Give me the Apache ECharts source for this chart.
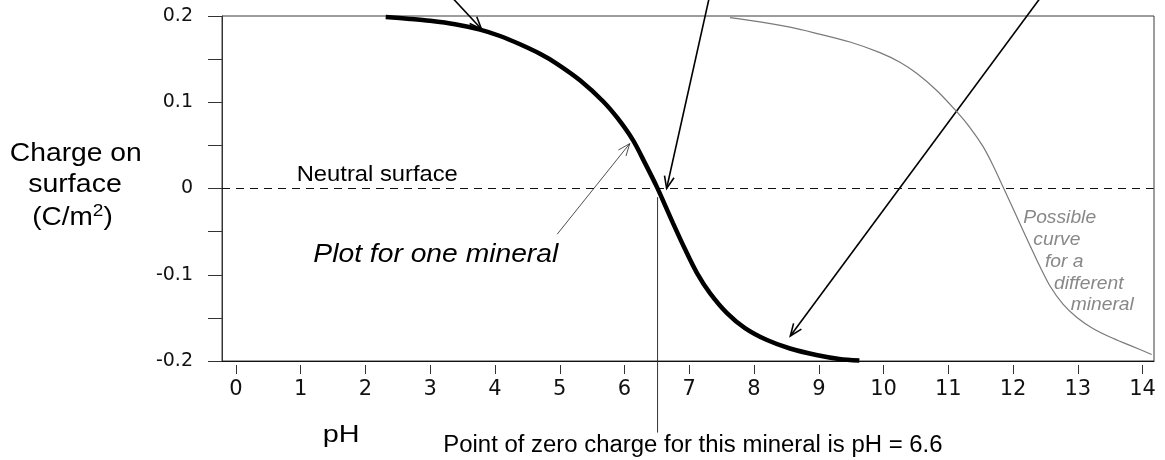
<!DOCTYPE html>
<html><head><meta charset="utf-8">
<script src="https://cdn.jsdelivr.net/npm/echarts@6/dist/echarts.min.js"></script>
<style>html,body{margin:0;padding:0;background:#fff}#c{width:1165px;height:460px}</style>
</head><body><div id="c"></div>
<script>
// ---- data ----
const xTickValues = [0,1,2,3,4,5,6,7,8,9,10,11,12,13,14];
const yTickLabelValues = [-0.2,-0.1,0,0.1,0.2];
const thickCurve = [[2.312,0.1988],[2.687,0.1966],[2.996,0.1944],[3.382,0.1904],[3.768,0.1842],[4.077,0.1768],[4.385,0.1672],[4.694,0.1562],[4.957,0.1446],[5.312,0.1255],[5.667,0.1012],[5.899,0.0809],[6.130,0.0560],[6.316,0.0294],[6.501,0.0016],[6.625,-0.0193],[6.748,-0.0401],[6.933,-0.0702],[7.119,-0.0980],[7.319,-0.1212],[7.582,-0.1444],[7.860,-0.1618],[8.200,-0.1757],[8.555,-0.1855],[8.962,-0.1930],[9.317,-0.1976],[9.626,-0.1995]];
const grayCurve = [[7.628,0.1981],[8.091,0.1932],[8.555,0.1870],[8.914,0.1808],[9.481,0.1699],[9.944,0.1576],[10.253,0.1464],[10.516,0.1333],[10.825,0.1134],[11.133,0.0888],[11.334,0.0707],[11.535,0.0488],[11.689,0.0270],[11.844,0.0020],[12.029,-0.0282],[12.261,-0.0660],[12.415,-0.0905],[12.570,-0.1130],[12.770,-0.1340],[12.986,-0.1495],[13.233,-0.1623],[13.496,-0.1722],[13.805,-0.1819],[14.140,-0.1924]];
const neutralLine = [[-0.216,0],[14.17,0]];
const zeroChargeLine = [[6.51,-0.01],[6.51,-0.283]];
const thickArrows = [[[3.33,0.222],[3.79,0.185]],[[7.31,0.222],[6.65,0.0]],[[12.43,0.222],[8.56,-0.171]]];
const thinArrow = [[4.96,-0.053],[6.08,0.052]];
const xMin = -0.216, xMax = 14.176;

const chart = echarts.init(document.getElementById('c'), null, {renderer:'canvas'});
const baseFont = 'Liberation Sans, Arial, sans-serif';
chart.setOption({
  animation:false,
  backgroundColor:'#fff',
  grid:{left:222,right:11,top:16,height:345,show:true,borderColor:'#3a3a3a',borderWidth:1,backgroundColor:'transparent'},
  xAxis:[
    {type:'value',min:xMin,max:xMax,position:'bottom',
     axisLine:{show:true,onZero:false,lineStyle:{color:'#111',width:1}},axisTick:{show:false},axisLabel:{show:false},splitLine:{show:false}},
    {type:'value',min:xMin,max:xMax,position:'bottom',offset:4,
     axisLine:{show:false,onZero:false},
     axisTick:{show:true,length:9,lineStyle:{color:'#333',width:1},customValues:xTickValues},
     axisLabel:{show:true,customValues:xTickValues,margin:14,fontFamily:'DejaVu Sans',fontSize:21,color:'#111'},
     splitLine:{show:false}}
  ],
  yAxis:{type:'value',min:-0.2,max:0.2,interval:0.05,
    axisLine:{show:true,onZero:false,lineStyle:{color:'#333',width:1}},
    axisTick:{show:true,inside:false,length:14,lineStyle:{color:'#333',width:1}},
    axisLabel:{margin:29,fontFamily:'DejaVu Sans',fontSize:19,color:'#111',padding:[6,0,0,0],
      formatter:function(v){return yTickLabelValues.some(function(t){return Math.abs(t-v)<1e-9;})?String(Math.round(v*10)/10):'';}},
    splitLine:{show:false}},
  series:[
    {type:'line',data:neutralLine,symbol:'none',silent:true,lineStyle:{color:'#111',width:1,type:[8,6]}},
    {type:'line',data:zeroChargeLine,symbol:'none',silent:true,clip:false,lineStyle:{color:'#333',width:1}},
    {type:'line',data:grayCurve,symbol:'none',smooth:0.3,silent:true,lineStyle:{color:'#7a7a7a',width:1.2}},
    {type:'line',data:thickCurve,symbol:'none',smooth:0.3,silent:true,lineStyle:{color:'#000',width:4.5}}
  ]
});

function px(p){return chart.convertToPixel({gridIndex:0},p);}
function arrow(s,e,w,color){
  const S=px(s),E=px(e);
  const dx=E[0]-S[0],dy=E[1]-S[1],len=Math.hypot(dx,dy);
  const ux=dx/len,uy=dy/len,L=13,th=22*Math.PI/180;
  function wing(a){const c=Math.cos(a),si=Math.sin(a);const rx=ux*c-uy*si,ry=ux*si+uy*c;return [E[0]-L*rx,E[1]-L*ry];}
  return [
    {type:'line',shape:{x1:S[0],y1:S[1],x2:E[0],y2:E[1]},style:{stroke:color,lineWidth:w},silent:true},
    {type:'polyline',shape:{points:[wing(th),E,wing(-th)]},style:{stroke:color,lineWidth:w,fill:null},silent:true}
  ];
}
function txt(text,x,baseline,fs,sx,opt){
  opt=opt||{};
  return {type:'text',x:x,y:baseline-0.34*fs,scaleX:sx,silent:true,
    style:{text:text,fontFamily:baseFont,fontSize:fs,fontStyle:opt.italic?'italic':'normal',fill:opt.fill||'#000',
      align:opt.align||'left',verticalAlign:'middle'}};
}
const g=[];
thickArrows.forEach(function(a){g.push.apply(g,arrow(a[0],a[1],1.6,'#000'));});
g.push.apply(g,arrow(thinArrow[0],thinArrow[1],0.8,'#222'));
g.push(txt('Neutral surface',296.7,182.3,22,1.08));
g.push(txt('Plot for one mineral',313.3,264,25,1.13,{italic:true}));
g.push(txt('Charge on',75.8,162.7,25,1.13,{align:'center'}));
g.push(txt('surface',75,193.3,25,1.14,{align:'center'}));
g.push({type:'text',x:72.5,y:226.7-0.34*25,scaleX:1.12,silent:true,
  style:{text:'{m|(C/m}{s|2}{m|)}',align:'center',verticalAlign:'middle',
    rich:{m:{fontFamily:baseFont,fontSize:25,lineHeight:30,fill:'#000'},
          s:{fontFamily:baseFont,fontSize:17,lineHeight:18,verticalAlign:'top',fill:'#000'}}}});
g.push(txt('pH',322.7,444,24,1.2));
g.push(txt('Point of zero charge for this mineral is pH = 6.6',443.3,453.3,23,1.04));
const gray={italic:true,fill:'#888'};
g.push(txt('Possible',1023.3,224,18,1.07,gray));
g.push(txt('curve',1033.3,245.7,18,1.07,gray));
g.push(txt('for a',1045,267.7,18,1.07,gray));
g.push(txt('different',1054,290,18,1.07,gray));
g.push(txt('mineral',1070.7,310.7,18,1.07,gray));
chart.setOption({graphic:g});
</script></body></html>
